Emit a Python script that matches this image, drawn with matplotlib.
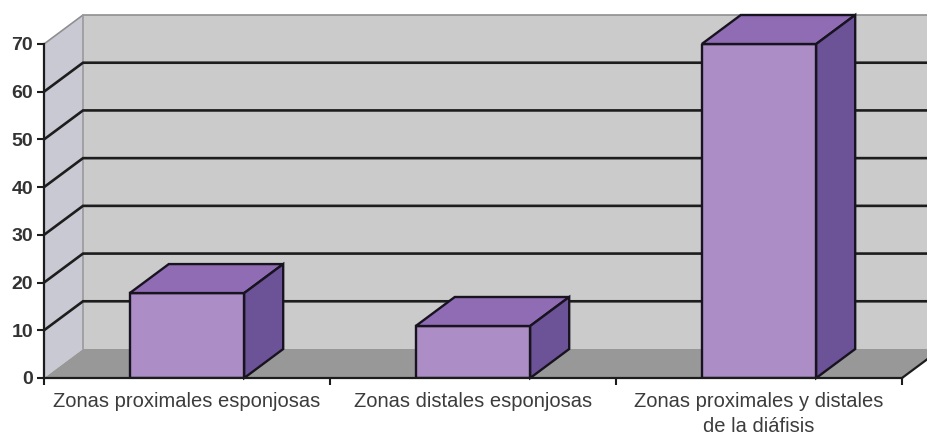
import matplotlib
matplotlib.use("Agg")
import matplotlib.pyplot as plt
from matplotlib.patches import Polygon

categories = ["Zonas proximales esponjosas", "Zonas distales esponjosas",
              "Zonas proximales y distales\nde la diáfisis"]
values = [17.8, 10.9, 70]
y_ticks = [0, 10, 20, 30, 40, 50, 60, 70]

W, H = 928, 437
plt.rcParams['font.family'] = ['Liberation Sans', 'DejaVu Sans']
fig = plt.figure(figsize=(W / 100, H / 100), dpi=100, facecolor='white')
L, R, T, B = 44, 902, 44, 378
ax = fig.add_axes([L / W, 1 - B / H, (R - L) / W, (B - T) / H])
ax.set_xlim(0, 3)
ax.set_ylim(0, 70)
ax.patch.set_visible(False)
for s in ('top', 'right'):
    ax.spines[s].set_visible(False)
for s in ('left', 'bottom'):
    ax.spines[s].set_linewidth(1.6)
    ax.spines[s].set_color('#1c1c1c')
    ax.spines[s].set_zorder(8)

dx = 39 / (R - L) * 3
dy = 29 / (B - T) * 70
ink = '#17131f'


def poly(pts, fc, ec='none', lw=0, z=1):
    ax.add_patch(Polygon(pts, closed=True, facecolor=fc, edgecolor=ec,
                         linewidth=lw, zorder=z, clip_on=False))


# walls and floor
poly([(dx, dy), (3 + dx, dy), (3 + dx, 70 + dy), (dx, 70 + dy)], '#cbcbcb')
poly([(0, 0), (dx, dy), (dx, 70 + dy), (0, 70)], '#c9c9d3')
poly([(0, 0), (3, 0), (3 + dx, dy), (dx, dy)], '#989898')
ax.plot([0, dx, 3 + dx], [70, 70 + dy, 70 + dy], color='#8f8f8f', lw=1.2, zorder=2, clip_on=False)
ax.plot([dx, dx], [dy, 70 + dy], color='#9a9a9a', lw=1.2, zorder=2, clip_on=False)

# gridlines
for v in y_ticks[1:-1]:
    ax.plot([0, dx, 3 + dx], [v, v + dy, v + dy], color='#1d1d1d', lw=1.9,
            zorder=3, clip_on=False, solid_joinstyle='miter')
ax.plot([3, 3 + dx], [0, dy], color='#1d1d1d', lw=1.6, zorder=3, clip_on=False)

# bars
width = 0.4
xs = [i + 0.5 for i in range(len(values))]
ax.bar(xs, values, width=width, color='#ac8dc6', edgecolor=ink, linewidth=1.7, zorder=5)
for x, v in zip(xs, values):
    l, r = x - width / 2, x + width / 2
    poly([(l, v), (r, v), (r + dx, v + dy), (l + dx, v + dy)], '#8f6cb4', ink, 1.7, 5)
    poly([(r, 0), (r + dx, dy), (r + dx, v + dy), (r, v)], '#6c5296', ink, 1.7, 5)

# axes
ax.set_yticks(y_ticks)
ax.set_xticks([0, 1, 2, 3])
ax.set_xticklabels([])
ax.tick_params(axis='both', length=5, width=1.5, color='#1c1c1c')
ax.tick_params(axis='y', pad=3, labelsize=14, labelcolor='#333333')
for t in ax.get_yticklabels():
    t.set_fontweight('bold')
for x, c in zip(xs, categories):
    ax.annotate(c, (x, 0), xytext=(0, -10), textcoords='offset points', ha='center', va='top',
                fontsize=14.5, color='#3c3c3c', linespacing=1.42, annotation_clip=False)

fig.savefig('out.png', dpi=100, facecolor='white')
